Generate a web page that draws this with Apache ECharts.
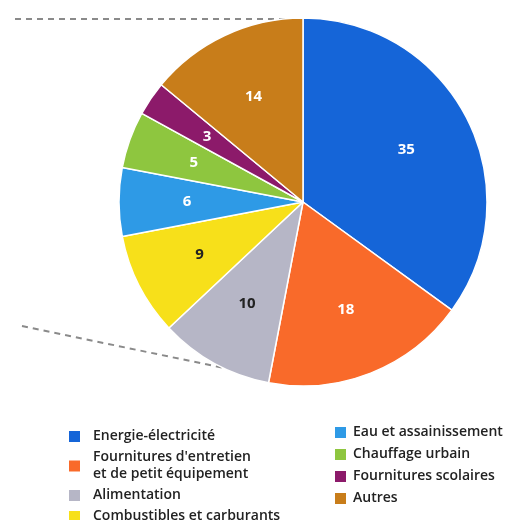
<!DOCTYPE html>
<html>
<head>
<meta charset="utf-8">
<script src="https://cdn.jsdelivr.net/npm/echarts@6/dist/echarts.min.js"></script>
<style>
  html, body { margin: 0; padding: 0; background: #fff; }
  #chart { width: 512px; height: 520px; }
</style>
</head>
<body>
<div id="chart"></div>
<script>
// Chart data
const categories = [
    'Energie-électricité',
    'Fournitures d\'entretien\net de petit équipement',
    'Alimentation',
    'Combustibles et carburants',
    'Eau et assainissement',
    'Chauffage urbain',
    'Fournitures scolaires',
    'Autres'
];
const values = [35, 18, 10, 9, 6, 5, 3, 14];
const colors = ['#1565d8', '#f96a2a', '#b6b6c6', '#f7e01a', '#2e9ae6', '#8ec63f', '#8c1a6a', '#c87d1a'];
const labelColors = ['#fff', '#fff', '#222', '#222', '#fff', '#fff', '#fff', '#fff'];

const leftLegend = categories.slice(0, 4);
const rightLegend = categories.slice(4);

document.addEventListener('DOMContentLoaded', function() {
    const chartDom = document.getElementById('chart');
    const myChart = echarts.init(chartDom);

    const pieData = categories.map((name, i) => ({
        name: name,
        value: values[i],
        itemStyle: { color: colors[i] }
    }));

    // label-only copy so the numbers sit further out than the default inside position
    const labelData = categories.map((name, i) => ({
        name: name,
        value: values[i],
        label: { color: labelColors[i] }
    }));

    const legendText = {
        color: '#222',
        fontFamily: 'Open Sans',
        fontWeight: 600,
        fontSize: 14,
        lineHeight: 17
    };

    const option = {
        animation: false,
        backgroundColor: '#fff',
        legend: [{
            orient: 'vertical',
            left: 62,
            top: 423,
            height: 110,
            icon: 'rect',
            itemWidth: 13,
            itemHeight: 13,
            itemGap: 4,
            selectedMode: false,
            data: leftLegend,
            textStyle: Object.assign({ padding: [0, 0, 0, 7] }, legendText)
        }, {
            orient: 'vertical',
            left: 328,
            top: 419,
            height: 110,
            icon: 'rect',
            itemWidth: 13,
            itemHeight: 13,
            itemGap: 5,
            selectedMode: false,
            data: rightLegend,
            textStyle: Object.assign({ padding: [0, 0, 0, 1] }, legendText)
        }],
        graphic: [{
            type: 'polyline',
            shape: { points: [[15, 19], [295, 19]] },
            style: { stroke: '#8a8a8a', lineWidth: 2, lineDash: [6, 5] }
        }, {
            type: 'polyline',
            shape: { points: [[22, 326], [272, 378]] },
            style: { stroke: '#8a8a8a', lineWidth: 2, lineDash: [6, 5] }
        }],
        series: [{
            name: 'main',
            type: 'pie',
            center: [303, 202],
            radius: [0, 184],
            startAngle: 90,
            clockwise: true,
            silent: true,
            label: { show: false },
            labelLine: { show: false },
            itemStyle: { borderColor: '#fff', borderWidth: 1.5 },
            data: pieData
        }, {
            name: 'labels',
            type: 'pie',
            center: [303, 202],
            radius: [0, 226],
            startAngle: 90,
            clockwise: true,
            silent: true,
            itemStyle: { color: 'rgba(0,0,0,0)' },
            label: {
                show: true,
                position: 'inside',
                formatter: '{c}',
                fontFamily: 'Open Sans',
                fontWeight: 700,
                fontSize: 15
            },
            labelLine: { show: false },
            data: labelData
        }]
    };
    myChart.setOption(option);
});
</script>
</body>
</html>
